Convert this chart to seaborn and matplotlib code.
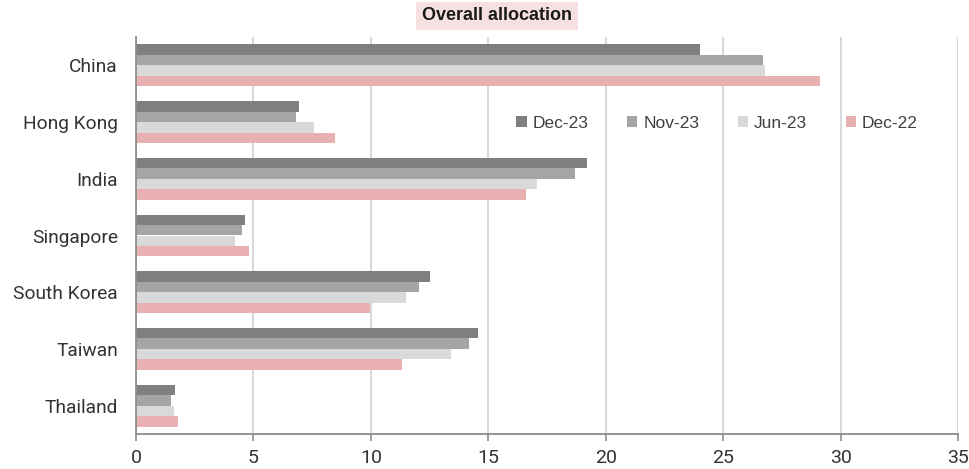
import matplotlib
matplotlib.use("Agg")
import matplotlib.pyplot as plt
import seaborn as sns
import pandas as pd
from matplotlib.patches import Patch

countries = ["China", "Hong Kong", "India", "Singapore", "South Korea", "Taiwan", "Thailand"]
series = ["Dec-23", "Nov-23", "Jun-23", "Dec-22"]
dec23 = [24.0, 6.95, 19.2, 4.63, 12.5, 14.58, 1.65]
nov23 = [26.7, 6.8, 18.7, 4.52, 12.05, 14.16, 1.50]
jun23 = [26.8, 7.56, 17.07, 4.23, 11.5, 13.43, 1.61]
dec22 = [29.14, 8.46, 16.62, 4.82, 9.96, 11.34, 1.78]
colors = ["#7f7f7f", "#a5a5a5", "#d9d9d9", "#e8b0b1"]
xticks = [0, 5, 10, 15, 20, 25, 30, 35]
title = "Overall allocation"

rows = []
for s, vals in zip(series, [dec23, nov23, jun23, dec22]):
    for c, v in zip(countries, vals):
        rows.append({"country": c, "series": s, "value": v})
df = pd.DataFrame(rows)

sns.set_theme(style="white")
plt.rcParams["font.family"] = ["Roboto", "DejaVu Sans"]

fig = plt.figure(figsize=(9.7, 4.69), dpi=100)
ax = fig.add_axes([136/970, 1-434/469, (958-136)/970, (434-37)/469])

sns.barplot(data=df, y="country", x="value", hue="series", order=countries,
            hue_order=series, palette=colors, orient="h", width=0.74,
            saturation=1, ax=ax, legend=False, linewidth=0)

ax.set_xlim(0, 35)
ax.set_ylim(6.5, -0.5)
ax.set_xticks(xticks)
ax.set_xticklabels([str(t) for t in xticks])
ax.set_xlabel("")
ax.set_ylabel("")
ax.grid(axis="x", color="#d9d9d9", linewidth=1.5)
ax.grid(axis="y", visible=False)
ax.set_axisbelow(True)
for side in ["top", "right"]:
    ax.spines[side].set_visible(False)
for side in ["left", "bottom"]:
    ax.spines[side].set_color("#8c8c8c")
    ax.spines[side].set_linewidth(1.3)
ax.tick_params(axis="x", length=5, width=1.2, color="#8c8c8c", pad=6,
               labelsize=14, labelcolor="#333333", bottom=True)
ax.tick_params(axis="y", length=0, pad=13, labelsize=13.8, labelcolor="#333333")

handles = [Patch(facecolor=c, edgecolor="none") for c in colors]
leg = ax.legend(handles, series, ncol=4, frameon=False, loc="center",
                bbox_to_anchor=(0.707, 0.783), prop={"family": ["Liberation Sans"], "size": 12.5},
                handlelength=0.6, handleheight=0.6, handletextpad=0.35,
                columnspacing=2.2, labelcolor="#404040")

fig.text(497/970, 1-16/469, title, ha="center", va="center", fontsize=13,
         fontweight="bold", color="#1a1a1a", family=["Liberation Sans"],
         bbox=dict(boxstyle="square,pad=0.33", facecolor="#f6e0e0", edgecolor="none"))

fig.savefig("out.png", dpi=100)
